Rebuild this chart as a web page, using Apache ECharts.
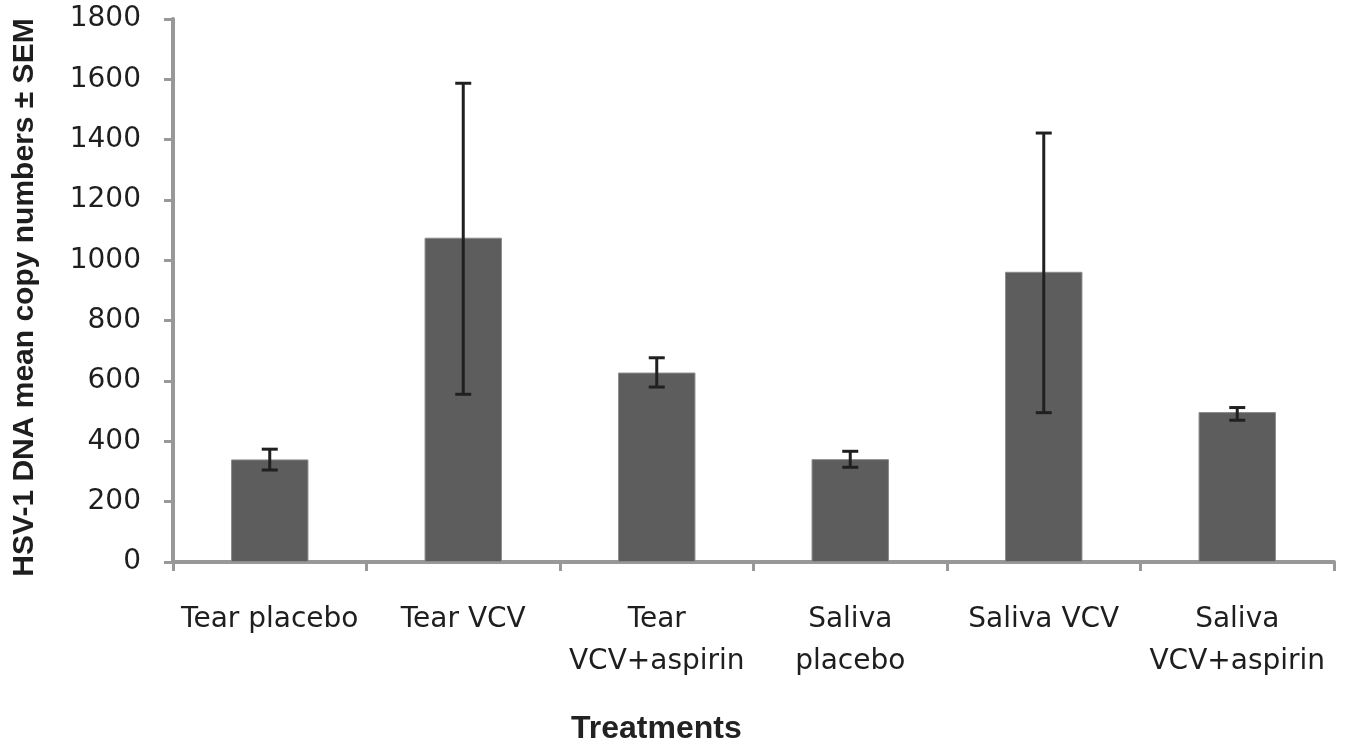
<!DOCTYPE html>
<html>
<head>
<meta charset="utf-8">
<script src="https://cdn.jsdelivr.net/npm/echarts@6/dist/echarts.min.js"></script>
<style>
html,body{margin:0;padding:0;background:#fff;}
#chart{width:1345px;height:744px;}
</style>
</head>
<body>
<div id="chart"></div>
<script>
var categories = ['Tear placebo', 'Tear VCV', 'Tear\nVCV+aspirin', 'Saliva\nplacebo', 'Saliva VCV', 'Saliva\nVCV+aspirin'];
var means = [340, 1075, 628, 341, 962, 497];
var errLow = [305, 556, 580, 314, 495, 470];
var errHigh = [374, 1587, 677, 367, 1422, 512];
var yTicks = {min: 0, max: 1800, interval: 200};

var chart = echarts.init(document.getElementById('chart'));
var errData = categories.map(function (c, i) { return [i, errLow[i], errHigh[i]]; });

chart.setOption({
  animation: false,
  backgroundColor: '#ffffff',
  grid: {left: 173, right: 11, top: 19, bottom: 182},
  title: {
    text: 'Treatments',
    left: 566,
    top: 708,
    textStyle: {fontFamily: 'Liberation Sans', fontWeight: 'bold', fontSize: 32, color: '#222'}
  },
  xAxis: {
    type: 'category',
    data: categories,
    axisLine: {lineStyle: {color: '#989898', width: 4}},
    axisTick: {show: true, length: 9, lineStyle: {color: '#989898', width: 3}},
    axisLabel: {
      margin: 37, fontFamily: 'DejaVu Sans', fontSize: 28, color: '#1e1e1e',
      lineHeight: 42, interval: 0
    }
  },
  yAxis: {
    type: 'value',
    min: yTicks.min, max: yTicks.max, interval: yTicks.interval,
    name: 'HSV-1 DNA mean copy numbers \u00b1 SEM',
    nameLocation: 'middle',
    nameGap: 133,
    nameTextStyle: {fontFamily: 'Liberation Sans', fontWeight: 'bold', fontSize: 30, color: '#1e1e1e', padding: [0, 14, 0, 0]},
    axisLine: {show: true, lineStyle: {color: '#989898', width: 4}},
    axisTick: {show: true, length: 9, lineStyle: {color: '#989898', width: 3}},
    splitLine: {show: false},
    axisLabel: {
      margin: 32, fontFamily: 'DejaVu Sans', fontSize: 28, color: '#1e1e1e',
      formatter: function (v) { return String(v); }
    }
  },
  series: [
    {
      type: 'bar',
      data: means,
      barWidth: '40%',
      itemStyle: {color: '#5d5d5d', borderColor: '#8a8a8a', borderWidth: 1}
    },
    {
      type: 'custom',
      data: errData,
      z: 10,
      renderItem: function (params, api) {
        var x = api.value(0);
        var lo = api.coord([x, api.value(1)]);
        var hi = api.coord([x, api.value(2)]);
        var hw = 8;
        var st = {stroke: '#202020', lineWidth: 3};
        return {
          type: 'group',
          children: [
            {type: 'line', shape: {x1: lo[0], y1: lo[1], x2: hi[0], y2: hi[1]}, style: st},
            {type: 'line', shape: {x1: lo[0] - hw, y1: lo[1], x2: lo[0] + hw, y2: lo[1]}, style: st},
            {type: 'line', shape: {x1: hi[0] - hw, y1: hi[1], x2: hi[0] + hw, y2: hi[1]}, style: st}
          ]
        };
      }
    }
  ]
});
</script>
</body>
</html>
